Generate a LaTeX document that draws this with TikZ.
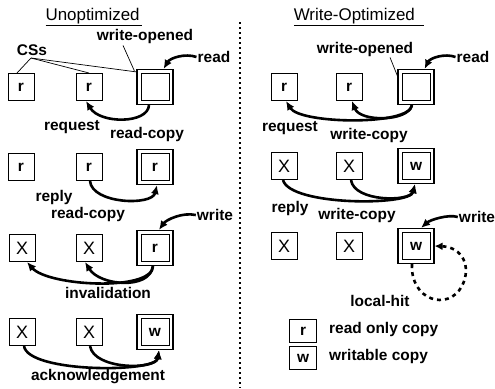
\documentclass[tikz,border=0pt]{standalone}
\usepackage{fontspec}
\setmainfont{Liberation Sans}
\usetikzlibrary{arrows.meta}
\begin{document}
\begin{tikzpicture}[x=1bp,y=-1bp,
 every node/.style={font=\fontsize{15.5}{17}\selectfont\bfseries},
 lbl/.style={inner sep=1bp},
 ttl/.style={font=\fontsize{17}{19}\selectfont},
 cs/.style={draw,line width=1bp,minimum width=26bp,minimum height=27bp,inner sep=0pt},
 leg/.style={cs,minimum width=27bp,minimum height=23bp},
 xbox/.style={cs,font=\fontsize{18}{18}\selectfont},
 fs/.style={draw,line width=1.2bp,minimum width=36bp,minimum height=35bp,inner sep=0pt,
   path picture={\draw[line width=1bp]
     ([shift={(4bp,-4bp)}]path picture bounding box.north west) rectangle
     ([shift={(-4bp,4bp)}]path picture bounding box.south east);}},
 arr/.style={line width=2.6bp,-{Latex[length=9bp,width=8bp]}},
 hitarr/.style={line width=2.6bp,dash pattern=on 4bp off 4bp,-{Latex[length=8bp,width=8bp]}},
 thin/.style={line width=0.7bp},
 divider/.style={line width=2.4bp,dash pattern=on 2.4bp off 2.6bp}
]
\useasboundingbox (0,0) rectangle (495,388);

% divider
\coordinate (d1) at (240,22);
\coordinate (d2) at (240,388);
\draw[divider] (d1) -- (d2);

% titles
\node[ttl] (t1) at (94,17) {\underline{Unoptimized\,}};
\node[ttl] (t2) at (359,17) {\underline{Write-Optimized\ \ }};

% ---------- left column ----------
\node[cs] (L1a) at (21,87) {r};
\node[cs] (L1b) at (89,87) {r};
\node[fs] (L1c) at (155,87) {};
\node[lbl] (wo1) at (145,37) {write-opened};
\node[lbl] (css) at (32,50) {CSs};
\node[lbl] (rd1) at (214,57) {read};
\coordinate (csp) at (31,58);
\draw[thin] (csp) -- ([xshift=-4bp]L1a.north);
\draw[thin] (csp) -- (L1b.north);
\draw[thin] (csp) -- ([yshift=-3bp]L1c.north west);
\draw[thin] ([xshift=-22bp]wo1.south) -- ([xshift=-2bp,yshift=-2bp]L1c.north west);
\draw[arr] (rd1.west) .. controls (185,53) and (170,58) .. ([xshift=-10bp]L1c.north east);
\draw[arr] ([xshift=-6bp]L1c.south) .. controls (148,124) and (100,124) .. ([xshift=-3bp]L1b.south);
\node[lbl] (rq1) at (72,127) {request};
\node[lbl] (rc1) at (147,135) {read-copy};

\node[cs] (L2a) at (21,167) {r};
\node[cs] (L2b) at (89,167) {r};
\node[fs] (L2c) at (155,167) {r};
\draw[arr] ([xshift=1bp]L2b.south) .. controls (92,204) and (152,206) .. ([xshift=2bp]L2c.south);
\node[lbl] (rp1) at (54,197) {reply};
\node[lbl] (rc2) at (88,214) {read-copy};

\node[xbox] (L3a) at (22,248) {X};
\node[xbox] (L3b) at (89,248) {X};
\node[fs] (L3c) at (155,248) {r};
\node[lbl] (wr1) at (215,215) {write};
\draw[arr] (wr1.west) .. controls (182,212) and (166,220) .. ([xshift=4bp]L3c.north);
\draw[arr] ([xshift=-2bp]L3c.south) .. controls (152,292) and (48,286) .. ([xshift=5bp]L3a.south);
\draw[arr] ([xshift=-2bp]L3c.south) .. controls (150,290) and (100,286) .. ([xshift=-4bp]L3b.south);
\node[lbl] (inv) at (108,293) {invalidation};

\node[xbox] (L4a) at (22,332) {X};
\node[xbox] (L4b) at (89,332) {X};
\node[fs] (L4c) at (155,332) {w};
\draw[arr] ([xshift=2bp]L4a.south) .. controls (28,373) and (156,373) .. ([xshift=4bp]L4c.south);
\draw[arr] ([xshift=1bp]L4b.south) .. controls (94,370) and (156,370) .. ([xshift=4bp]L4c.south);
\node[lbl] (ack) at (98,377) {acknowledgement};

% ---------- right column ----------
\node[cs] (R1a) at (284,87) {r};
\node[cs] (R1b) at (349,87) {r};
\node[fs] (R1c) at (416,87) {};
\node[lbl] (wo2) at (365,50) {write-opened};
\node[lbl] (rd2) at (473,57) {read};
\draw[thin] ([xshift=25bp,yshift=1bp]wo2.south) -- ([yshift=-7bp]R1c.north west);
\draw[arr] (rd2.west) .. controls (445,53) and (430,58) .. ([xshift=-10bp]R1c.north east);
\draw[arr] ([xshift=-4bp]R1c.south) .. controls (410,126) and (300,124) .. ([xshift=2bp]R1a.south);
\draw[arr] ([xshift=-4bp]R1c.south) .. controls (408,122) and (360,122) .. ([xshift=3bp]R1b.south);
\node[lbl] (rq2) at (290,128) {request};
\node[lbl] (wc1) at (369,136) {write-copy};

\node[xbox] (R2a) at (284,166) {X};
\node[xbox] (R2b) at (349,166) {X};
\node[fs] (R2c) at (416,166) {w};
\draw[arr] ([xshift=-1bp]R2a.south) .. controls (290,206) and (410,206) .. ([xshift=-1bp]R2c.south);
\draw[arr] ([xshift=2bp]R2b.south) .. controls (354,202) and (410,202) .. ([xshift=-1bp]R2c.south);
\node[lbl] (rp2) at (290,208) {reply};
\node[lbl] (wc2) at (357,215) {write-copy};

\node[xbox] (R3a) at (284,246) {X};
\node[xbox] (R3b) at (349,246) {X};
\node[fs] (R3c) at (416,246) {w};
\node[lbl] (wr2) at (477,217) {write};
\draw[arr] (wr2.west) .. controls (448,214) and (430,220) .. ([xshift=5bp]R3c.north);
\coordinate (lhp) at (462,286);
\draw[hitarr] ([xshift=-4bp]R3c.south) .. controls (410,300) and (448,312) .. (lhp)
  .. controls (472,266) and (462,247) .. (R3c.east);
\node[lbl] (lh) at (380,301) {local-hit};

% legend
\node[leg] (Ka) at (303,331) {r};
\node[lbl,anchor=west] (Kat) at (328,329) {read only copy};
\node[leg] (Kb) at (303,358) {w};
\node[lbl,anchor=west] (Kbt) at (328,356) {writable copy};
\end{tikzpicture}
\end{document}
